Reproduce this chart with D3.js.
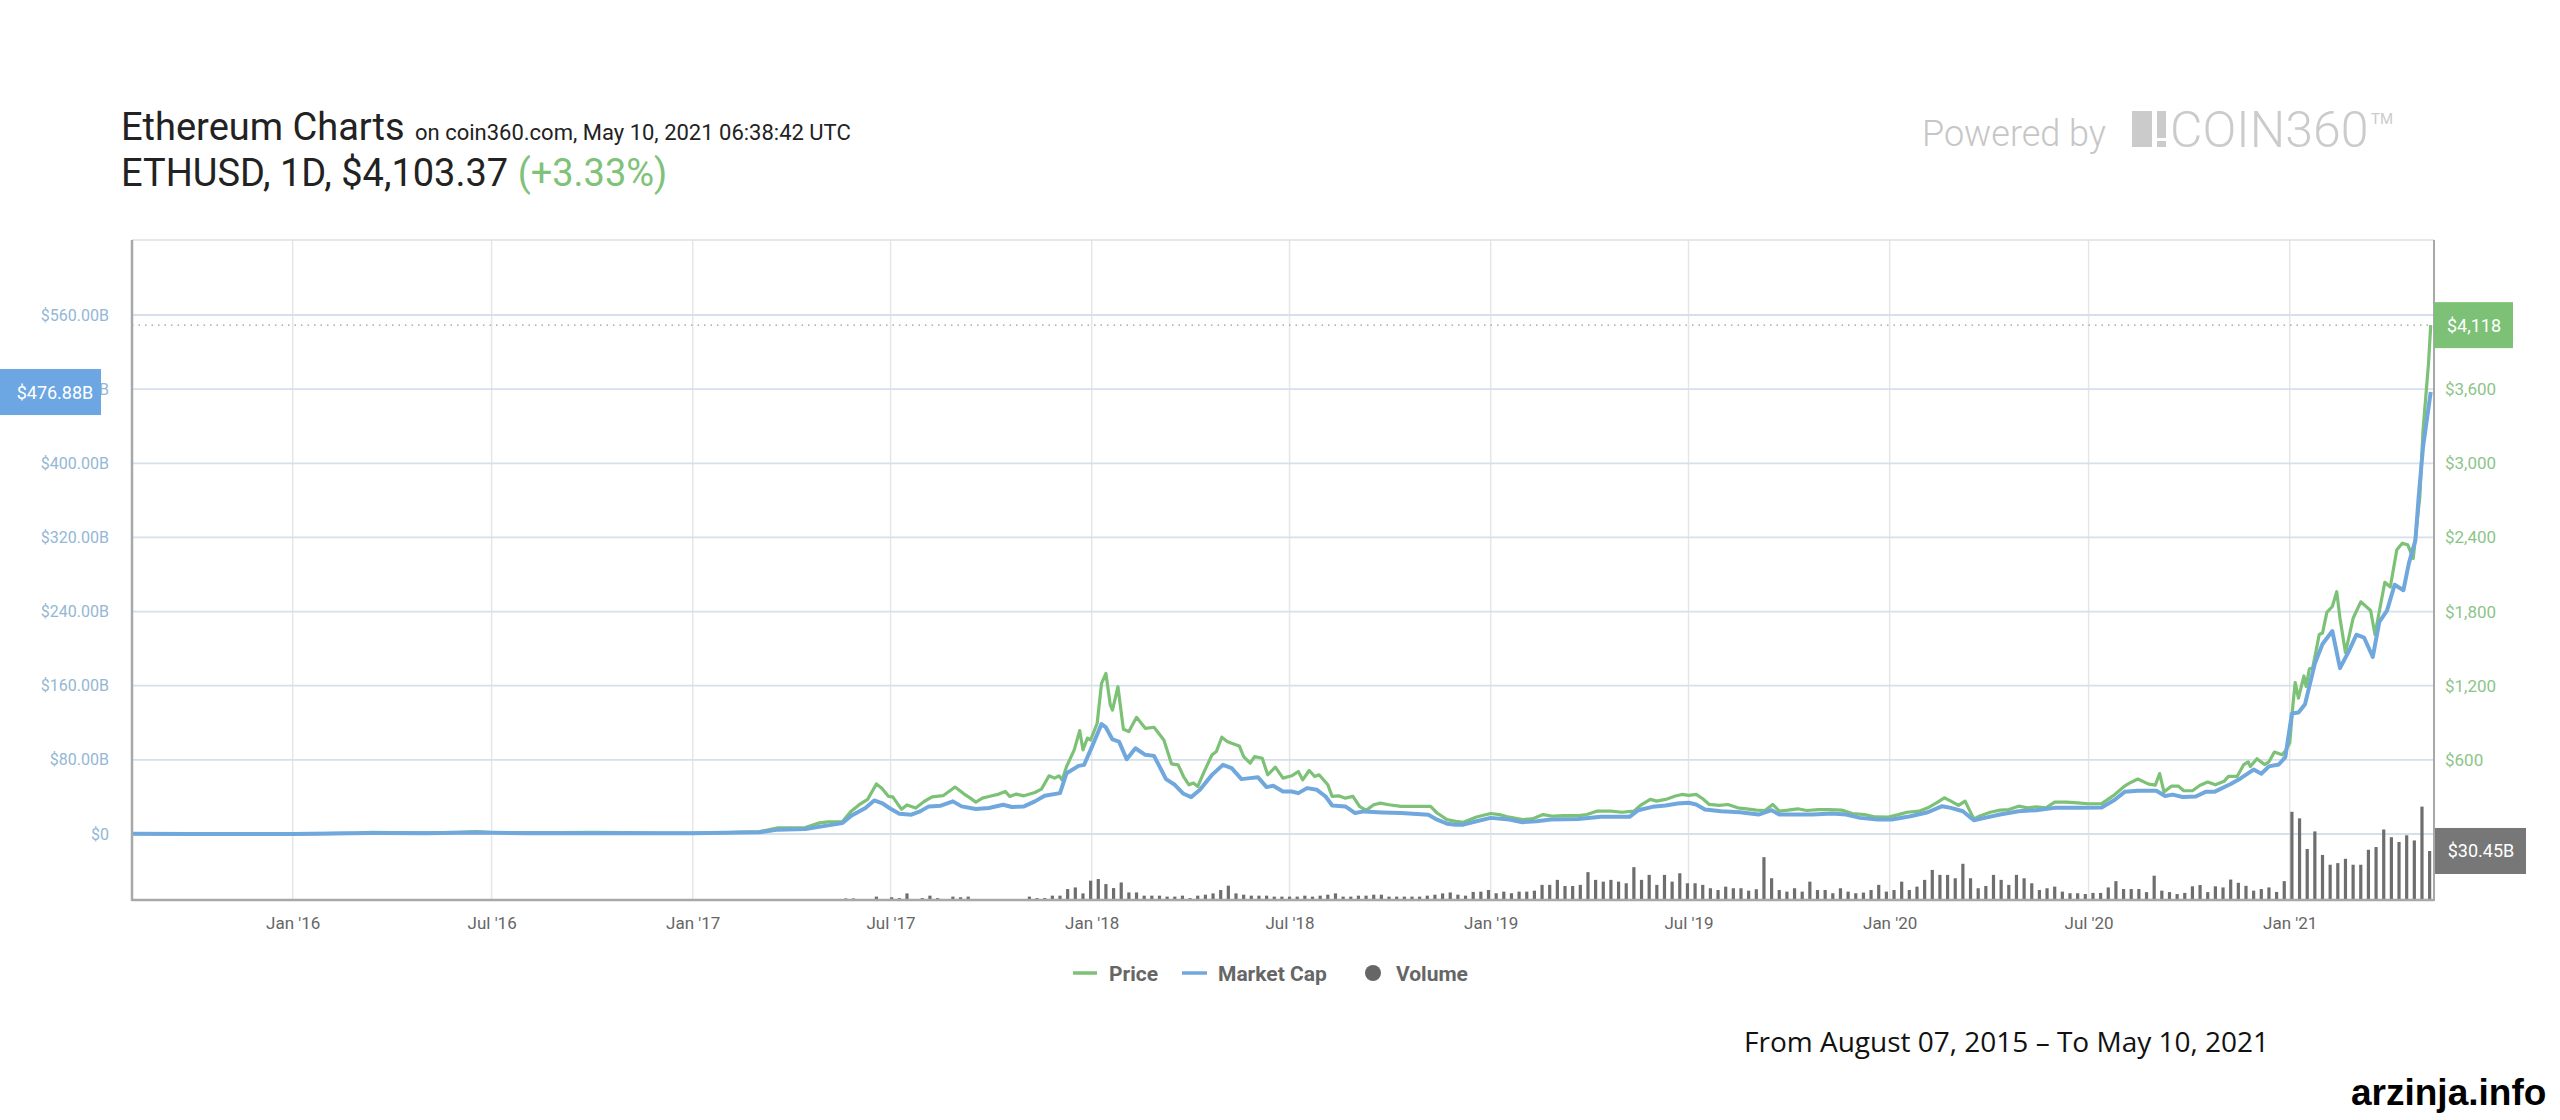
<!DOCTYPE html>
<html><head><meta charset="utf-8">
<script src="https://cdn.jsdelivr.net/npm/d3@7"></script>
<style>
body{margin:0;background:#fff;}
svg{display:block;}
text{font-family:Roboto,"Noto Sans",sans-serif;}
</style>
</head><body>
<svg id="c" width="2560" height="1120"></svg>
<script>
// ---------- DATA ----------
const priceDates = [
"2015-08-07","2015-09-01","2015-10-01","2015-11-01","2015-12-01","2016-01-01","2016-02-01","2016-03-01","2016-03-13","2016-04-01","2016-05-01","2016-06-01","2016-06-17","2016-07-01","2016-08-01","2016-09-01","2016-10-01","2016-11-01","2016-12-01",
"2017-01-01","2017-02-01","2017-03-03","2017-03-20","2017-04-14","2017-04-27","2017-05-05","2017-05-18","2017-05-26","2017-06-02","2017-06-10","2017-06-18","2017-06-23","2017-06-29","2017-07-03","2017-07-07","2017-07-11","2017-07-16","2017-07-24","2017-08-01","2017-08-08","2017-08-18","2017-08-29","2017-09-06","2017-09-12","2017-09-17","2017-09-23","2017-09-29","2017-10-08","2017-10-14","2017-10-18","2017-10-24","2017-10-31","2017-11-10","2017-11-16","2017-11-23","2017-11-28","2017-12-02","2017-12-05","2017-12-09","2017-12-16","2017-12-21","2017-12-24","2017-12-28","2017-12-31",
"2018-01-06","2018-01-10","2018-01-14","2018-01-18","2018-01-20","2018-01-25","2018-01-30","2018-02-04","2018-02-11","2018-02-19","2018-02-27","2018-03-08","2018-03-15","2018-03-21","2018-03-26","2018-03-31","2018-04-04","2018-04-08","2018-04-14","2018-04-21","2018-04-25","2018-04-30","2018-05-05","2018-05-09","2018-05-16","2018-05-20","2018-05-26","2018-05-30","2018-06-06","2018-06-11","2018-06-18","2018-06-25","2018-07-03","2018-07-09","2018-07-13","2018-07-19","2018-07-24","2018-07-28","2018-08-05","2018-08-09","2018-08-15","2018-08-21","2018-08-28","2018-09-03","2018-09-09","2018-09-16","2018-09-22","2018-09-30","2018-10-11","2018-10-23","2018-11-07","2018-11-13","2018-11-22","2018-11-30","2018-12-07","2018-12-19",
"2019-01-01","2019-01-09","2019-01-18","2019-01-30","2019-02-08","2019-02-18","2019-02-27","2019-03-09","2019-03-22","2019-03-30","2019-04-08","2019-04-21","2019-05-01","2019-05-12","2019-05-18","2019-05-27","2019-06-02","2019-06-10","2019-06-19","2019-06-25","2019-07-01","2019-07-08","2019-07-14","2019-07-20","2019-07-29","2019-08-06","2019-08-15","2019-08-23","2019-09-01","2019-09-09","2019-09-16","2019-09-22","2019-09-30","2019-10-09","2019-10-17","2019-10-28","2019-11-07","2019-11-18","2019-11-28","2019-12-09","2019-12-19","2019-12-30",
"2020-01-09","2020-01-17","2020-01-28","2020-02-05","2020-02-14","2020-02-20","2020-02-26","2020-03-04","2020-03-10","2020-03-18","2020-03-23","2020-04-02","2020-04-11","2020-04-19","2020-04-28","2020-05-06","2020-05-14","2020-05-23","2020-05-31","2020-06-11","2020-06-21","2020-06-30","2020-07-13","2020-07-25","2020-08-03","2020-08-07","2020-08-15","2020-08-25","2020-08-31","2020-09-04","2020-09-08","2020-09-15","2020-09-21","2020-09-26","2020-10-04","2020-10-11","2020-10-18","2020-10-25","2020-11-02","2020-11-06","2020-11-14","2020-11-20","2020-11-24","2020-11-26","2020-12-02","2020-12-09","2020-12-13","2020-12-18","2020-12-25","2020-12-28",
"2021-01-01","2021-01-04","2021-01-06","2021-01-09","2021-01-14","2021-01-16","2021-01-19","2021-01-22","2021-01-28","2021-01-31","2021-02-04","2021-02-09","2021-02-13","2021-02-16","2021-02-21","2021-02-28","2021-03-07","2021-03-16","2021-03-20","2021-03-29","2021-04-03","2021-04-09","2021-04-14","2021-04-19","2021-04-24","2021-04-30","2021-05-03","2021-05-08","2021-05-10"
];
const priceValues = [
2.8,1.3,0.7,1.0,0.9,0.95,2.5,8,14,11,9,14,19,12,11,12,13,11,8,
8,11,20,50,52,90,98,100,185,235,280,405,370,305,300,250,200,235,210,265,300,310,380,325,290,258,290,304,323,344,304,323,309,336,363,471,452,471,438,546,681,837,681,775,761,
896,1219,1299,1044,1003,1192,847,829,944,855,864,761,568,560,465,398,412,385,506,640,667,783,748,734,713,627,573,627,613,479,541,452,471,506,438,514,465,479,398,304,309,290,304,223,191,237,250,237,223,223,223,170,116,102,95,138,
166,157,136,117,122,157,144,149,149,157,185,185,176,185,231,280,266,280,307,320,312,320,285,239,231,239,212,204,193,190,239,185,193,204,190,198,198,193,166,157,138,136,
157,176,185,212,258,293,266,231,266,122,144,176,193,198,225,212,220,212,258,258,252,245,246,319,388,410,445,404,395,489,341,388,388,350,350,395,420,398,426,467,467,562,584,546,609,562,584,663,641,672,
736,1050,1225,1099,1279,1194,1336,1342,1614,1626,1794,1841,1961,1746,1468,1746,1879,1809,1614,2037,1999,2300,2353,2340,2230,2727,3270,3811,4118
];

const capDates = [
"2015-08-07","2015-10-01","2016-01-01","2016-03-13","2016-05-01","2016-06-17","2016-08-01","2016-11-01","2017-01-01",
"2017-03-03","2017-03-20","2017-04-14","2017-05-05","2017-05-18","2017-05-26","2017-06-08","2017-06-16","2017-06-23","2017-07-01","2017-07-09","2017-07-20","2017-07-28","2017-08-05","2017-08-16","2017-08-27","2017-09-04","2017-09-17","2017-09-29","2017-10-12","2017-10-20","2017-10-31","2017-11-10","2017-11-19","2017-12-03","2017-12-09","2017-12-20","2017-12-25","2017-12-31",
"2018-01-10","2018-01-14","2018-01-20","2018-01-26","2018-02-02","2018-02-10","2018-02-19","2018-02-27","2018-03-10","2018-03-18","2018-03-26","2018-04-02","2018-04-10","2018-04-21","2018-05-01","2018-05-09","2018-05-18","2018-05-26","2018-06-02","2018-06-10","2018-06-16","2018-06-25","2018-07-03","2018-07-09","2018-07-17","2018-07-26","2018-08-03","2018-08-09","2018-08-21","2018-08-30","2018-09-07","2018-09-24","2018-10-11","2018-11-05","2018-11-13","2018-11-22","2018-11-30","2018-12-07","2018-12-19",
"2019-01-01","2019-01-18","2019-01-30","2019-02-12","2019-02-25","2019-03-22","2019-04-12","2019-05-08","2019-05-16","2019-05-29","2019-06-10","2019-06-21","2019-07-01","2019-07-08","2019-07-16","2019-07-31","2019-08-17","2019-09-03","2019-09-15","2019-09-22","2019-10-06","2019-10-23","2019-11-09","2019-11-22","2019-12-05","2019-12-21",
"2020-01-03","2020-01-20","2020-02-05","2020-02-18","2020-02-26","2020-03-08","2020-03-18","2020-03-28","2020-04-11","2020-04-28","2020-05-14","2020-05-31","2020-06-24","2020-07-13","2020-07-25","2020-08-03","2020-08-15","2020-09-01","2020-09-09","2020-09-16","2020-09-25","2020-10-07","2020-10-16","2020-10-24","2020-11-08","2020-11-17","2020-11-29","2020-12-06","2020-12-13","2020-12-22","2020-12-28",
"2021-01-03","2021-01-09","2021-01-15","2021-01-24","2021-01-31","2021-02-09","2021-02-16","2021-02-24","2021-03-03","2021-03-10","2021-03-18","2021-03-24","2021-03-31","2021-04-07","2021-04-15","2021-04-20","2021-04-26","2021-04-29","2021-05-03","2021-05-10"
];
const capValues = [
0.2,0.05,0.07,1.1,0.8,1.6,0.9,0.9,0.7,
1.8,4.7,5.4,9.3,11.8,19.7,28,36.2,33.4,27.3,21.9,20.8,24.4,29.8,30.5,35.2,29.8,26.9,28,31.6,29.1,29.8,35.2,41.3,44.1,65.6,73.5,74.6,90.8,
118.7,115,102,99.7,80.7,92.5,85.4,84.3,59.2,53.1,43.4,39.8,47.7,63.8,74.6,71,59.2,60.3,61.3,50.6,52,45.9,45.9,44.1,49.5,47.7,40.5,30.8,29.8,22.6,24.4,23.3,22.6,20.8,15.4,11.1,10,10.1,13.8,
17.4,15.6,12.7,13.8,15.6,16.3,18.5,18.5,25.7,29.3,30.8,32.9,33.7,31.9,26.4,24.6,23.5,21,25.7,21,21,21,22.1,21,17.4,15.6,
15.6,19.2,23.5,30,28.2,24.6,14.8,17.4,21,24.6,25.7,28.2,28.2,28.6,37,45.5,46.7,46.7,41,42.5,40,40.4,45.5,45.5,54,60,69.5,65,73,75,83,
130,131,140,184,205,219,179,197,215,212,191,229,241,269,263,292,317,364,418,476.88
];

// weekly volume bars (billions USD), one per week starting at volumeFirstWeek
const volumeFirstWeek = "2017-05-21";
const volumeValues = [
1.0,1.0,0.4,0.5,2.1,0.5,1.7,1.2,4.1,0.5,
1.2,2.7,1.2,0.5,2.1,1.7,2.1,0.3,0.2,0.3,
0.2,0.3,0.4,0.5,2.1,1.2,1.2,2.7,2.7,6.8,
7.8,4.1,12,13,9.9,7.4,10.9,4.7,4.7,2.7,
2.7,2.7,2.1,2.1,2.7,1.2,2.7,3.3,4.1,6.2,
8.9,4.1,3.3,2.7,2.7,2.7,2.1,2.1,2.1,2.1,
2.7,2.1,2.7,3.3,4.1,2.1,2.1,2.7,2.7,3.3,
3.3,2.1,2.1,2.1,2.1,2.1,2.7,3.3,4.1,4.7,
3.3,2.7,5.0,5.2,6.2,4.2,5.2,4.2,5.2,5.2,
5.8,9.4,9.4,12.5,8.7,8.7,9.4,17.3,12.5,11.4,
12.5,11.4,10.4,20.4,12.5,15.6,9.4,15.6,11.4,16.6,
10.4,10.4,9.4,7.3,6.2,8.3,7.3,7.3,5.8,6.7,
26.6,13.5,6.2,5.2,7.3,5.2,11.4,6.2,6.2,4.2,
7.3,5.2,4.2,4.6,6.2,9.4,5.2,6.2,11.4,6.2,
8.3,12.5,18.7,15.6,15.6,13.5,22.5,13.5,7.3,8.7,
15.6,12.5,9.4,15.6,13.5,10.4,6.2,7.3,8.3,5.2,
4.2,4.2,3.7,4.4,4.4,7.8,11.7,6.8,6.8,6.8,
4.9,15.1,5.8,4.9,3.7,4.4,8.5,9.3,4.9,8.5,
7.8,12.7,10.7,8.8,5.8,6.8,7.8,5.0,11.7,54.8,
50.7,31.7,42.6,28,21.9,22.9,25.6,21.9,21.9,31.2,
32.9,43.8,39,36,40.2,37,58,30.45
];

const capTicks = [0,80,160,240,320,400,480,560];
const priceTicks = [600,1200,1800,2400,3000,3600];
const lastPrice = 4118, lastCap = 476.88, lastVolume = 30.45;

// ---------- SETUP ----------
const parse = d3.timeParse("%Y-%m-%d");
const priceData = priceDates.map((d,i)=>({date:parse(d), v:priceValues[i]}));
const capData = capDates.map((d,i)=>({date:parse(d), v:capValues[i]}));
const vStart = parse(volumeFirstWeek);
const volData = volumeValues.map((v,i)=>({date:d3.timeDay.offset(vStart, 7*i), v}));

const L=132, R=2434, T=240, B=900;
const x = d3.scaleTime().domain([parse("2015-08-07"), parse("2021-05-13")]).range([L,R]);
const yCap = d3.scaleLinear().domain([0,560]).range([834,315]);
const yPrice = d3.scaleLinear().domain([0,4200]).range([834,315]);
const yVol = d3.scaleLinear().domain([0,100]).range([B, B-161]);

const svg = d3.select("#c");
const green="#7cc176", blue="#70a8de";

// grid
const xTicks = x.ticks(d3.timeMonth.every(6));
svg.append("g").selectAll("line").data(xTicks).join("line")
  .attr("x1",d=>x(d)).attr("x2",d=>x(d)).attr("y1",T).attr("y2",B)
  .attr("stroke","#e6e6e6").attr("stroke-width",1.5);
svg.append("g").selectAll("line").data(capTicks).join("line")
  .attr("x1",L).attr("x2",R).attr("y1",d=>yCap(d)).attr("y2",d=>yCap(d))
  .attr("stroke","#d5e0ec").attr("stroke-width",1.8);

// volume bars
svg.append("g").selectAll("rect").data(volData).join("rect")
  .attr("x",d=>x(d.date)-1.6).attr("width",3.2)
  .attr("y",d=>yVol(d.v)).attr("height",d=>B-yVol(d.v))
  .attr("fill","#6e6e6e");

// lines
svg.append("path").datum(priceData)
  .attr("d", d3.line().x(d=>x(d.date)).y(d=>yPrice(d.v)))
  .attr("fill","none").attr("stroke",green).attr("stroke-width",3.2).attr("stroke-linejoin","round");
svg.append("path").datum(capData)
  .attr("d", d3.line().x(d=>x(d.date)).y(d=>yCap(d.v)))
  .attr("fill","none").attr("stroke",blue).attr("stroke-width",4).attr("stroke-linejoin","round");

// dotted current price line
svg.append("line").attr("x1",L).attr("x2",R).attr("y1",yPrice(lastPrice)).attr("y2",yPrice(lastPrice))
  .attr("stroke","#9a9a9a").attr("stroke-width",1.2).attr("stroke-dasharray","1.5,5");

// borders
svg.append("line").attr("x1",L).attr("x2",R).attr("y1",T).attr("y2",T).attr("stroke","#d9e0e8").attr("stroke-width",1.5);
svg.append("line").attr("x1",L).attr("x2",L).attr("y1",T).attr("y2",B+1).attr("stroke","#a8a8a8").attr("stroke-width",2.5);
svg.append("line").attr("x1",R).attr("x2",R).attr("y1",T).attr("y2",B+1).attr("stroke","#a8a8a8").attr("stroke-width",2);
svg.append("line").attr("x1",L).attr("x2",R).attr("y1",B).attr("y2",B).attr("stroke","#a8a8a8").attr("stroke-width",2.5);

// axes
const fmtCap = v => v===0 ? "$0" : "$"+v.toFixed(2)+"B";
const fmtPrice = v => v===0 ? "$0" : "$"+d3.format(",")(v);
const gl = svg.append("g").attr("transform","translate(109,0)")
  .call(d3.axisLeft(yCap).tickValues(capTicks).tickSize(0).tickPadding(0).tickFormat(fmtCap));
gl.select(".domain").remove();
gl.selectAll("text").style("font-family","Roboto").style("font-size","16px").style("fill","#93b7d4");
const gr = svg.append("g").attr("transform","translate(2445,0)")
  .call(d3.axisRight(yPrice).tickValues(priceTicks).tickSize(0).tickPadding(0).tickFormat(fmtPrice));
gr.select(".domain").remove();
gr.selectAll("text").style("font-family","Roboto").style("font-size","17px").style("fill","#8cc589");
const gb = svg.append("g").attr("transform",`translate(0,${B})`)
  .call(d3.axisBottom(x).tickValues(xTicks).tickSize(0).tickPadding(17).tickFormat(d3.timeFormat("%b '%y")));
gb.select(".domain").remove();
gb.selectAll("text").style("font-family","Roboto").style("font-size","17px").style("fill","#666");

// value labels
function tag(x0,yc,w,fill,label,cx){
  svg.append("rect").attr("x",x0).attr("y",yc-23).attr("width",w).attr("height",46).attr("fill",fill);
  svg.append("text").attr("x",cx).attr("y",yc).attr("dy","0.36em").attr("text-anchor","middle")
    .style("font-size","18px").style("fill","#fff").text(label);
}
tag(0, yCap(lastCap), 101, "#6ca7e3", "$"+lastCap.toFixed(2)+"B", 55);
tag(R, yPrice(lastPrice), 79, green, fmtPrice(lastPrice), R+40);
tag(R+1, yVol(lastVolume), 91, "#777777", "$"+lastVolume.toFixed(2)+"B", R+47);

// legend
const ly=973;
svg.append("line").attr("x1",1073).attr("x2",1097).attr("y1",ly).attr("y2",ly).attr("stroke",green).attr("stroke-width",3.5);
svg.append("text").attr("x",1109).attr("y",ly).attr("dy","0.36em").style("font-size","21px").style("font-weight","bold").style("fill","#666").text("Price");
svg.append("line").attr("x1",1182).attr("x2",1207).attr("y1",ly).attr("y2",ly).attr("stroke",blue).attr("stroke-width",3.5);
svg.append("text").attr("x",1218).attr("y",ly).attr("dy","0.36em").style("font-size","21px").style("font-weight","bold").style("fill","#666").text("Market Cap");
svg.append("circle").attr("cx",1373).attr("cy",ly).attr("r",8).attr("fill","#666");
svg.append("text").attr("x",1396).attr("y",ly).attr("dy","0.36em").style("font-size","21px").style("font-weight","bold").style("fill","#666").text("Volume");

// header
svg.append("text").attr("x",121).attr("y",140).style("font-size","38px").style("fill","#222").text("Ethereum Charts");
svg.append("text").attr("x",415).attr("y",140).style("font-size","22px").style("fill","#222").text("on coin360.com, May 10, 2021 06:38:42 UTC");
const t2 = svg.append("text").attr("x",121).attr("y",186).style("font-size","38px").style("fill","#222");
t2.append("tspan").text("ETHUSD, 1D, $4,103.37 ");
t2.append("tspan").style("fill","#7fc27a").text("(+3.33%)");

svg.append("text").attr("x",1922).attr("y",146).style("font-size","36px").style("font-weight","300").style("fill","#c6c6c6").text("Powered by");
svg.append("rect").attr("x",2132).attr("y",111).attr("width",20).attr("height",36).attr("fill","#cbcbcb");
svg.append("rect").attr("x",2157).attr("y",111).attr("width",9).attr("height",27).attr("fill","#cbcbcb");
svg.append("rect").attr("x",2157).attr("y",141).attr("width",9).attr("height",6).attr("fill","#cbcbcb");
svg.append("text").attr("x",2170).attr("y",147).style("font-size","50px").style("font-weight","300").style("fill","#cbcbcb").text("COIN360");
svg.append("text").attr("x",2371).attr("y",124).style("font-size","15px").style("fill","#cbcbcb").text("TM");

// footer
svg.append("text").attr("x",1744).attr("y",1052).style("font-family","'Open Sans'").style("font-size","28px").style("fill","#111").text("From August 07, 2015 – To May 10, 2021");
svg.append("text").attr("x",2351).attr("y",1105).style("font-family","'Liberation Sans',Arial").style("font-size","37px").style("font-weight","bold").style("fill","#000").text("arzinja.info");
</script>
</body></html>
